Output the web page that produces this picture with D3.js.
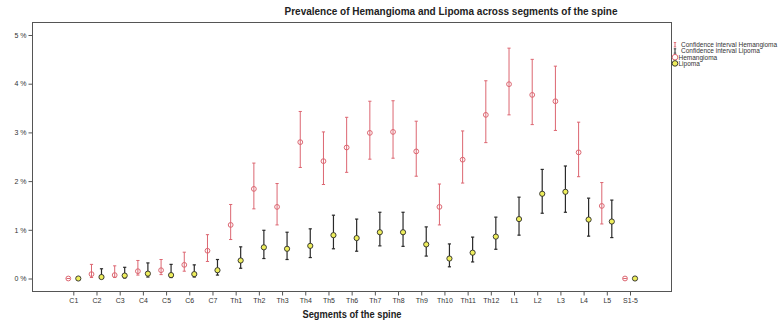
<!DOCTYPE html>
<html>
<head>
<meta charset="utf-8">
<script src="https://cdn.jsdelivr.net/npm/d3@7"></script>
<style>
  html, body { margin: 0; padding: 0; background: #fff; }
  svg { display: block; font-family: "Liberation Sans", Arial, sans-serif; }
</style>
</head>
<body>
<svg id="chart" width="780" height="324"></svg>
<script>
const segments = ["C1","C2","C3","C4","C5","C6","C7","Th1","Th2","Th3","Th4","Th5","Th6","Th7","Th8","Th9","Th10","Th11","Th12","L1","L2","L3","L4","L5","S1-5"];
const hemValue = [0,0.09,0.07,0.15,0.17,0.28,0.57,1.10,1.84,1.47,2.80,2.41,2.69,2.99,3.01,2.61,1.47,2.44,3.36,3.99,3.77,3.64,2.59,1.49,0];
const hemLow   = [0,0.02,0.02,0.07,0.08,0.15,0.35,0.80,1.43,1.10,2.28,1.93,2.18,2.45,2.47,2.10,1.10,1.96,2.79,3.36,3.16,3.04,2.09,1.12,0];
const hemHigh  = [0,0.29,0.26,0.37,0.39,0.54,0.90,1.52,2.37,1.95,3.43,3.01,3.31,3.64,3.65,3.23,1.94,3.03,4.06,4.73,4.50,4.36,3.21,1.97,0];
const lipValue = [0,0.03,0.06,0.10,0.07,0.09,0.17,0.37,0.64,0.61,0.67,0.89,0.83,0.95,0.95,0.70,0.41,0.53,0.86,1.22,1.74,1.78,1.21,1.17,0];
const lipLow   = [0,0.00,0.01,0.03,0.02,0.03,0.07,0.21,0.41,0.39,0.43,0.61,0.56,0.67,0.66,0.46,0.24,0.34,0.60,0.89,1.34,1.36,0.87,0.84,0];
const lipHigh  = [0,0.20,0.23,0.32,0.29,0.28,0.39,0.65,0.99,0.95,1.02,1.30,1.22,1.36,1.36,1.06,0.71,0.85,1.26,1.67,2.24,2.31,1.65,1.61,0];
const yTicks = [0,1,2,3,4,5];
const title = "Prevalence of Hemangioma and Lipoma across segments of the spine";
const xTitle = "Segments of the spine";
const legendLabels = ["Confidence interval Hemangioma","Confidence interval Lipoma","Hemangioma","Lipoma"];

const svg = d3.select("#chart");
const frame = {left: 32.5, right: 671.5, top: 22.5, bottom: 291.5};
const hemColor = "#dc6671";
const lipStroke = "#2a2a2a";
const lipFill = "#eeee5c";
const axisColor = "#555";

const x = d3.scalePoint().domain(segments).range([73.3, 630]);
const y = d3.scaleLinear().domain([0, 5]).range([278.5, 35]);
const off = 5;

svg.append("rect")
  .attr("x", frame.left).attr("y", frame.top)
  .attr("width", frame.right - frame.left).attr("height", frame.bottom - frame.top)
  .attr("fill", "none").attr("stroke", axisColor).attr("stroke-width", 1);

const yAxis = d3.axisLeft(y).tickValues(yTicks).tickSize(4).tickPadding(2)
  .tickFormat(d => d + " %");
const gy = svg.append("g").attr("transform", `translate(${frame.left},0)`).call(yAxis);
gy.select(".domain").remove();
gy.selectAll(".tick line").attr("stroke", axisColor);
gy.selectAll(".tick text").attr("font-size", 7).attr("fill", "#333");

const xAxis = d3.axisBottom(x).tickSize(4).tickPadding(3);
const gx = svg.append("g").attr("transform", `translate(0,${frame.bottom})`).call(xAxis);
gx.select(".domain").remove();
gx.selectAll(".tick line").attr("stroke", axisColor);
gx.selectAll(".tick text").attr("font-size", 7).attr("fill", "#333");

svg.append("text").attr("x", 451).attr("y", 15).attr("text-anchor", "middle")
  .attr("font-size", 10).attr("font-weight", "bold").attr("fill", "#222")
  .attr("textLength", 333).attr("lengthAdjust", "spacingAndGlyphs")
  .text(title);
svg.append("text").attr("x", 352).attr("y", 318).attr("text-anchor", "middle")
  .attr("font-size", 10).attr("font-weight", "bold").attr("fill", "#222")
  .attr("textLength", 99).attr("lengthAdjust", "spacingAndGlyphs")
  .text(xTitle);

const rows = segments.map((s, i) => ({
  s, hv: hemValue[i], hl: hemLow[i], hh: hemHigh[i],
  lv: lipValue[i], ll: lipLow[i], lh: lipHigh[i]
}));
const cap = 1.6;

function errorBars(g, cx, lo, hi, color, width) {
  g.append("line").attr("x1", cx).attr("x2", cx).attr("y1", y(lo)).attr("y2", y(hi))
    .attr("stroke", color).attr("stroke-width", width);
  g.append("line").attr("x1", cx - cap).attr("x2", cx + cap).attr("y1", y(lo)).attr("y2", y(lo))
    .attr("stroke", color).attr("stroke-width", width);
  g.append("line").attr("x1", cx - cap).attr("x2", cx + cap).attr("y1", y(hi)).attr("y2", y(hi))
    .attr("stroke", color).attr("stroke-width", width);
}

const gData = svg.append("g");
rows.forEach(r => {
  const hx = x(r.s) - off, lx = x(r.s) + off;
  const gh = gData.append("g");
  errorBars(gh, hx, r.hl, r.hh, hemColor, 1);
  gh.append("circle").attr("cx", hx).attr("cy", y(r.hv)).attr("r", 2.4)
    .attr("fill", "none").attr("stroke", hemColor).attr("stroke-width", 1);
  const gl = gData.append("g");
  errorBars(gl, lx, r.ll, r.lh, lipStroke, 1.2);
  gl.append("circle").attr("cx", lx).attr("cy", y(r.lv)).attr("r", 2.6)
    .attr("fill", lipFill).attr("stroke", lipStroke).attr("stroke-width", 0.9);
});

const lg = svg.append("g").attr("transform", "translate(675,0)");
const ly = [44.7, 51, 57.2, 63.4];
legendLabels.forEach((t, i) => {
  const cy = ly[i];
  if (i < 2) {
    const c = i === 0 ? hemColor : lipStroke;
    lg.append("line").attr("x1", 0).attr("x2", 0).attr("y1", cy - 2.2).attr("y2", cy + 2.2).attr("stroke", c).attr("stroke-width", 1);
    lg.append("line").attr("x1", -1.2).attr("x2", 1.2).attr("y1", cy - 2.2).attr("y2", cy - 2.2).attr("stroke", c).attr("stroke-width", 0.9);
    lg.append("line").attr("x1", -1.2).attr("x2", 1.2).attr("y1", cy + 2.2).attr("y2", cy + 2.2).attr("stroke", c).attr("stroke-width", 0.9);
  } else if (i === 2) {
    lg.append("circle").attr("cx", 0).attr("cy", cy).attr("r", 2.8).attr("fill", "none").attr("stroke", hemColor).attr("stroke-width", 1);
  } else {
    lg.append("circle").attr("cx", 0).attr("cy", cy).attr("r", 2.8).attr("fill", lipFill).attr("stroke", lipStroke).attr("stroke-width", 0.9);
  }
  lg.append("text").attr("x", i < 2 ? 6 : 3.5).attr("y", cy + 2.3).attr("font-size", 6.5).attr("fill", "#333").text(t);
});
</script>
</body>
</html>
